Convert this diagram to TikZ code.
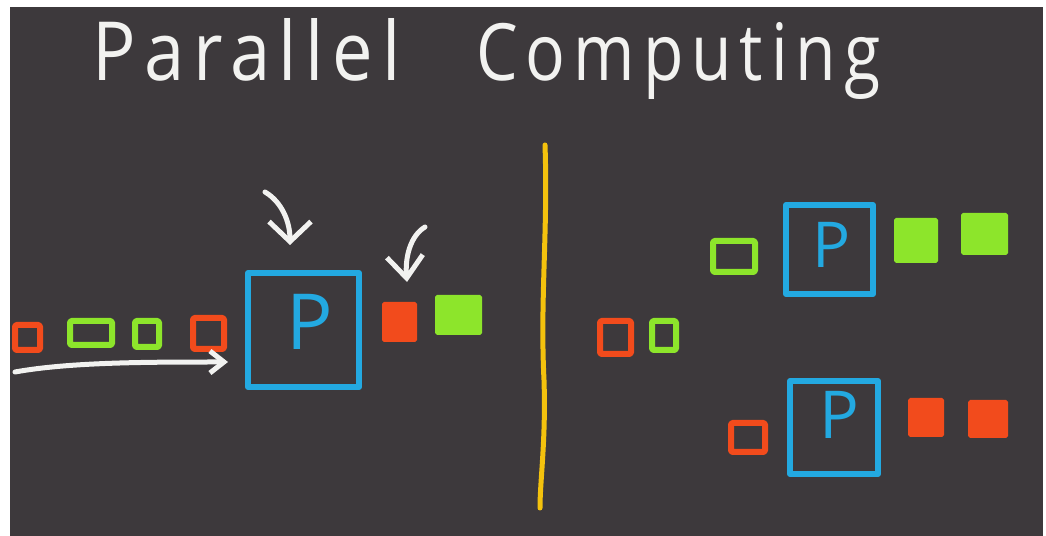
\documentclass[tikz,border=0pt]{standalone}
\usepackage{fontspec}
\usetikzlibrary{arrows.meta}
\newfontfamily\handfont{Open Sans}
\newfontfamily\handspaced[LetterSpace=12]{Open Sans}
\definecolor{bgdark}{HTML}{3D393C}
\definecolor{cred}{HTML}{F24B1C}
\definecolor{cgreen}{HTML}{8DE52B}
\definecolor{cblue}{HTML}{23A9E1}
\definecolor{cyellow}{HTML}{F4C20D}
\definecolor{cwhite}{HTML}{F2F2F0}
% outlined box: style, x1, y1, x2, y2 (outer px), name
\newcommand\myobox[6]{\node[#1, minimum width={(#4-#2-6)*0.025cm}, minimum height={(#5-#3-6)*0.025cm}] (#6) at ({(#2+#4)/2},{(#3+#5)/2}) {};}
% filled box
\newcommand\myfbox[6]{\node[#1, minimum width={(#4-#2-2)*0.025cm}, minimum height={(#5-#3-2)*0.025cm}] (#6) at ({(#2+#4)/2},{(#3+#5)/2}) {};}
\tikzset{
  outline/.style={draw=#1, line width=6*0.025cm, rounded corners=1pt, inner sep=0pt, outer sep=0pt, line join=round},
  solid box/.style={fill=#1, draw=#1, line width=2*0.025cm, rounded corners=1pt, inner sep=0pt, outer sep=0pt},
  procbox/.style={draw=cblue, line width=6*0.025cm, inner sep=0pt, outer sep=0pt, line join=round},
  plabel/.style={text=cblue, inner sep=0pt, font=\handfont\fontsize{#1}{#1}\selectfont},
  titletext/.style={anchor=base west, inner sep=0pt, text=cwhite},
  handarrow/.style={draw=cwhite, line width=5*0.025cm, line cap=round, line join=round},
}
\begin{document}
\begin{tikzpicture}[x=0.025cm, y=-0.025cm]
\useasboundingbox (0,0) rectangle (1046,536);
\fill[white] (0,0) rectangle (1046,536);
\fill[bgdark] (10,7) rectangle (1043,536);

% title
\node[titletext] (title1) at (92,81)
  {\resizebox{7.7cm}{1.55cm}{\handspaced Parallel}};
\node[titletext] (title2) at (476,81)
  {\resizebox{10.1cm}{1.45cm}{\handspaced Computing}};

% divider
\draw[cyellow, line width=5*0.025cm, line cap=round]
  (545,145) .. controls (548,230) and (540,300) .. (544,380) .. controls (546,440) and (540,480) .. (540,508);

% ---- left: single processor ----
\myobox{outline=cred}{12}{322}{43}{353}{q1}
\myobox{outline=cgreen}{67}{318}{115}{348}{q2}
\myobox{outline=cgreen}{132}{318}{162}{350}{q3}
\myobox{outline=cred}{190}{315}{227}{352}{q4}
\myobox{procbox}{245}{270}{362}{390}{p1}
\node[plabel=55] (p1l) at (310,322) {P};
\myfbox{solid box=cred}{382}{302}{417}{342}{o1}
\myfbox{solid box=cgreen}{435}{295}{482}{335}{o2}

\coordinate (a1s) at (265,192);
\coordinate (a1e) at (290,245);
\draw[handarrow, -{Straight Barb[length=0.5cm, width=1.05cm]}]
  (a1s) .. controls (282,202) and (290,222) .. (a1e);
\coordinate (a2s) at (425,227);
\coordinate (a2e) at (407,282);
\draw[handarrow, -{Straight Barb[length=0.55cm, width=0.9cm]}]
  (a2s) .. controls (410,236) and (405,258) .. (a2e);
\coordinate (a3s) at (15,372);
\coordinate (a3e) at (228,362);
\draw[handarrow, -{Straight Barb[length=0.35cm, width=0.55cm]}]
  (a3s) .. controls (70,362) and (150,362) .. (a3e);

% ---- right: two processors ----
\myobox{outline=cred}{597}{318}{634}{357}{m1}
\myobox{outline=cgreen}{649}{318}{679}{353}{m2}

\myobox{outline=cgreen}{710}{238}{758}{275}{t1}
\myobox{procbox}{783}{202}{876}{297}{p2}
\node[plabel=45] (p2l) at (832,245) {P};
\myfbox{solid box=cgreen}{894}{218}{938}{263}{t2}
\myfbox{solid box=cgreen}{961}{213}{1008}{255}{t3}

\myobox{outline=cred}{728}{420}{768}{455}{b1}
\myobox{procbox}{787}{378}{881}{477}{p3}
\node[plabel=47] (p3l) at (839,415) {P};
\myfbox{solid box=cred}{908}{398}{944}{437}{b2}
\myfbox{solid box=cred}{968}{400}{1008}{438}{b3}
\end{tikzpicture}
\end{document}
